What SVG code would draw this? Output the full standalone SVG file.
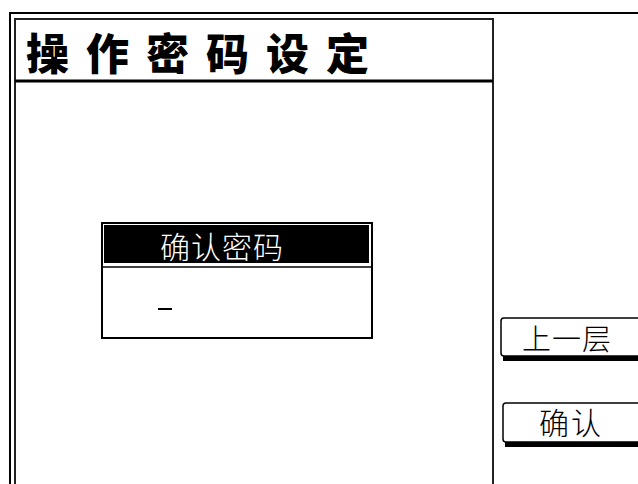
<svg xmlns="http://www.w3.org/2000/svg" width="638" height="484" viewBox="0 0 638 484">
<style>
.frame{fill:none;stroke:#000;stroke-width:2}
.panel{fill:#fff;stroke:#222;stroke-width:2}
.ui{font-family:"Noto Sans CJK SC","Noto Sans",sans-serif;font-weight:300}
.title{font-family:"Noto Sans CJK SC","Noto Sans",sans-serif;font-weight:900;font-size:43px;letter-spacing:17px;fill:#000}
.btn{fill:#fff;stroke:#000;stroke-width:1.5}
.shadow{fill:#000}
</style>
<rect x="0" y="0" width="638" height="484" fill="#fff"/>
<g id="outer-frame">
<path class="frame" d="M10 484 V13 H638"/>
</g>
<g id="main-panel">
<rect class="panel" x="15" y="19" width="478" height="480"/>
<line x1="15" y1="81" x2="493" y2="81" stroke="#000" stroke-width="3"/>
<text class="title" x="26" y="70">操作密码设定</text>
</g>
<g id="confirm-dialog">
<rect x="102" y="223" width="270" height="115" fill="#fff" stroke="#000" stroke-width="2"/>
<rect x="104" y="225" width="265" height="38" fill="#000"/>
<line x1="102" y1="267" x2="372" y2="267" stroke="#000" stroke-width="1.5"/>
<text class="ui" x="160" y="258" font-size="30" letter-spacing="1" fill="#fff">确认密码</text>
<line x1="158" y1="309" x2="172" y2="309" stroke="#000" stroke-width="2"/>
</g>
<g id="btn-back">
<rect class="shadow" x="503" y="355" width="140" height="6"/>
<path class="btn" d="M645 318 H504 Q501 318 501 321 V353 Q501 356 504 356 H645"/>
<text class="ui" x="522" y="350" font-size="29" letter-spacing="1" fill="#000">上一层</text>
</g>
<g id="btn-confirm">
<rect class="shadow" x="505" y="441" width="140" height="6"/>
<path class="btn" d="M645 403 H506 Q503 403 503 406 V439 Q503 442 506 442 H645"/>
<text class="ui" x="539" y="434" font-size="30" letter-spacing="2" fill="#000">确认</text>
</g>
<g id="connectors"/>
</svg>
